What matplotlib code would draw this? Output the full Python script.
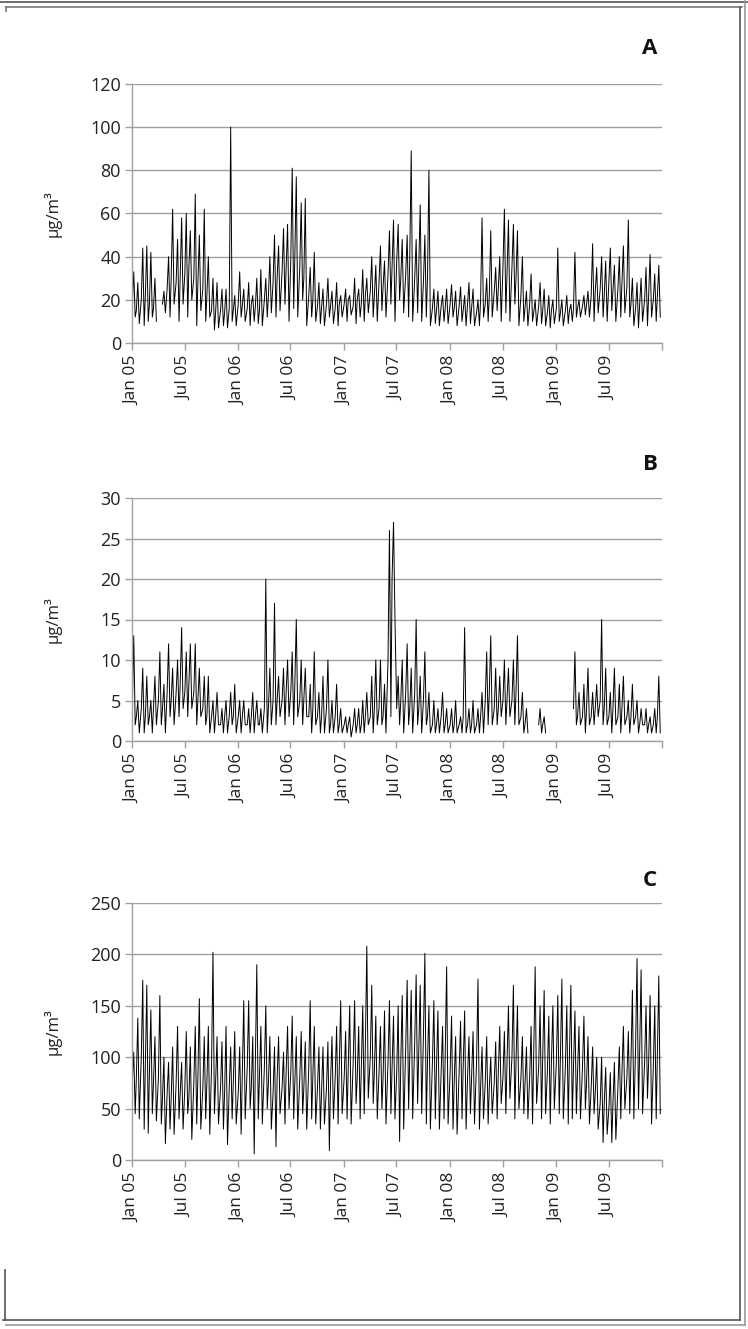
import numpy as np
import pandas as pd
import matplotlib
matplotlib.use('Agg')
import matplotlib.pyplot as plt
from matplotlib.lines import Line2D

nan = np.nan

# half-month periods, Jan 05 - Dec 09; for each period the typical level,
# the high and the low value
periods = pd.date_range('2005-01-01', periods=120, freq='SMS')

a_mid = [18, 15, 20, 22, 18, 16, nan, 18, 25, 30, 28, 30, 32, 35, 30, 28, 25, 22, 15, 14, 15, 14, 16, 15,
         18, 17, 16, 18, 17, 15, 20, 22, 28, 30, 33, 35, 38, 40, 35, 30, 22, 20, 17, 16, 18, 17, 16, 18,
         18, 20, 17, 20, 18, 22, 24, 22, 28, 26, 32, 35, 38, 30, 32, 40, 30, 35, 28, 30, 16, 15, 17, 16,
         18, 16, 17, 15, 18, 16, 14, 20, 18, 22, 24, 25, 35, 32, 35, 30, 22, 16, 18, 14, 17, 15, 14, 15,
         16, 14, 15, 15, 16, 16, 17, 18, 22, 24, 25, 22, 28, 24, 25, 28, 26, 18, 16, 18, 20, 22, 20, 22]
a_lo = [12, 9, 8, 10, 12, 10, nan, 14, 12, 18, 10, 18, 12, 20, 8, 15, 10, 12, 6, 7, 8, 7, 10, 8,
        12, 10, 8, 10, 9, 8, 12, 14, 12, 15, 18, 10, 16, 12, 20, 8, 12, 10, 9, 8, 12, 9, 8, 12,
        10, 13, 9, 12, 10, 14, 12, 10, 15, 12, 18, 10, 20, 14, 12, 10, 14, 10, 12, 8, 9, 8, 10, 9,
        12, 8, 10, 8, 9, 8, 8, 12, 10, 12, 15, 10, 14, 10, 18, 8, 10, 8, 10, 8, 9, 8, 7, 9,
        10, 8, 9, 10, 12, 12, 13, 12, 10, 14, 12, 10, 15, 10, 12, 14, 12, 8, 7, 10, 8, 12, 10, 12]
a_hi = [33, 28, 44, 45, 42, 30, nan, 24, 40, 62, 48, 58, 60, 52, 69, 50, 62, 40, 30, 28, 25, 25, 100, 22,
        33, 25, 28, 22, 30, 34, 30, 40, 50, 45, 53, 55, 81, 77, 65, 67, 35, 42, 28, 25, 30, 24, 28, 22,
        25, 22, 30, 25, 34, 30, 40, 36, 45, 38, 52, 57, 55, 48, 50, 89, 48, 64, 50, 80, 25, 24, 22, 25,
        27, 24, 26, 22, 28, 25, 20, 58, 30, 52, 35, 40, 62, 57, 55, 52, 40, 24, 32, 20, 28, 25, 22, 20,
        44, 20, 22, 18, 42, 20, 22, 24, 46, 35, 40, 38, 44, 36, 40, 45, 57, 30, 28, 30, 35, 41, 32, 36]

b_mid = [4, 3, 4, 3, 3, 4, 5, 4, 6, 5, 6, 7, 6, 7, 6, 5, 4, 3, 3, 3, 2, 3, 3, 3,
         3, 3, 2, 3, 3, 2, 4, 4, 5, 5, 5, 6, 6, 7, 5, 5, 3, 4, 3, 3, 4, 2, 3, 2,
         2, 2, 2, 2, 2, 3, 3, 4, 4, 3, 10, 20, 4, 5, 6, 4, 6, 4, 5, 3, 2, 2, 3, 2,
         2, 2, 2, 3, 2, 2, 2, 3, 5, 6, 4, 4, 5, 5, 5, 6, 3, 2, nan, nan, 2, 2, nan, nan,
         nan, nan, nan, nan, 4, 3, 3, 4, 3, 4, 5, 4, 3, 4, 3, 4, 3, 3, 3, 2, 2, 2, 2, 3]
b_lo = [2, 1, 1, 2, 1, 2, 2, 1, 3, 2, 3, 4, 3, 4, 2, 3, 2, 1, 1, 2, 1, 1, 2, 1,
        1, 2, 1, 1, 2, 1, 1, 2, 2, 3, 2, 3, 2, 3, 2, 3, 1, 2, 1, 1, 1, 1, 1, 1,
        1, 0.5, 1, 1, 1, 2, 1, 2, 2, 1, 3, 15, 2, 1, 2, 1, 2, 1, 2, 1, 1, 1, 1, 1,
        1, 1, 1, 1, 1, 1, 1, 1, 2, 2, 2, 3, 2, 3, 2, 2, 1, 1, nan, nan, 1, 1, nan, nan,
        nan, nan, nan, nan, 2, 2, 1, 2, 2, 3, 2, 2, 1, 2, 1, 2, 1, 2, 1, 2, 1, 1, 1, 1]
b_hi = [13, 5, 9, 8, 5, 8, 11, 7, 12, 9, 10, 14, 11, 12, 12, 9, 8, 8, 5, 6, 4, 5, 6, 7,
        5, 5, 4, 6, 5, 4, 20, 9, 17, 8, 9, 10, 11, 15, 10, 9, 7, 11, 6, 8, 10, 5, 7, 4,
        3, 3, 4, 4, 5, 6, 8, 10, 10, 7, 26, 27, 8, 10, 12, 9, 15, 8, 11, 6, 5, 4, 6, 4,
        4, 5, 3, 14, 4, 5, 4, 6, 11, 13, 9, 8, 10, 9, 10, 13, 6, 4, nan, nan, 4, 3, nan, nan,
        nan, nan, nan, nan, 11, 6, 7, 9, 6, 7, 15, 9, 6, 9, 7, 8, 5, 7, 5, 4, 4, 3, 4, 8]

c_mid = [75, 80, 100, 90, 85, 75, 80, 60, 65, 60, 75, 65, 70, 60, 75, 80, 70, 75, 90, 75, 70, 65, 70, 75,
         65, 85, 90, 70, 95, 80, 90, 75, 65, 80, 70, 85, 85, 75, 80, 70, 90, 80, 70, 65, 70, 75, 80, 90,
         80, 90, 95, 80, 90, 110, 100, 85, 85, 80, 95, 90, 85, 95, 110, 100, 115, 105, 120, 95, 95, 90, 85, 100,
         85, 75, 85, 90, 80, 80, 95, 70, 75, 70, 75, 85, 80, 95, 100, 95, 80, 75, 80, 105, 90, 100, 85, 95,
         95, 100, 90, 100, 90, 85, 90, 75, 70, 65, 55, 55, 50, 55, 70, 85, 80, 95, 110, 105, 95, 95, 90, 100]
c_lo = [45, 40, 30, 26, 45, 38, 35, 16, 30, 25, 40, 30, 45, 20, 35, 30, 40, 25, 45, 35, 30, 15, 40, 35,
        25, 40, 50, 6, 40, 35, 50, 30, 13, 45, 35, 50, 40, 30, 45, 30, 40, 35, 30, 35, 9, 40, 35, 45,
        40, 35, 55, 40, 45, 60, 55, 40, 50, 35, 45, 40, 18, 30, 50, 40, 55, 45, 35, 30, 40, 30, 40, 35,
        30, 25, 40, 30, 45, 35, 30, 40, 35, 45, 40, 55, 45, 60, 40, 50, 45, 40, 35, 55, 40, 45, 35, 50,
        45, 40, 35, 40, 45, 40, 50, 35, 45, 30, 17, 25, 17, 20, 40, 50, 45, 40, 50, 45, 60, 35, 40, 45]
c_hi = [105, 138, 175, 170, 146, 120, 160, 100, 95, 110, 130, 95, 125, 110, 130, 157, 120, 130, 202, 120, 115, 130, 110, 125,
        110, 155, 155, 120, 190, 130, 150, 120, 110, 120, 105, 130, 140, 120, 125, 115, 155, 130, 110, 110, 115, 120, 130, 155,
        125, 150, 155, 130, 150, 208, 170, 140, 130, 145, 155, 140, 150, 160, 175, 165, 180, 170, 201, 150, 155, 145, 130, 188,
        140, 120, 135, 145, 120, 125, 176, 110, 120, 100, 115, 130, 125, 150, 170, 150, 120, 110, 130, 188, 150, 165, 140, 150,
        160, 176, 150, 170, 145, 130, 140, 120, 110, 100, 100, 90, 85, 95, 110, 130, 125, 165, 196, 185, 150, 160, 150, 179]

panels = ['A', 'B', 'C']
y_max = [120, 30, 250]
y_step = [20, 5, 50]
tick_dates = pd.date_range('2005-01-01', '2010-01-01', freq='6MS')
tick_labels = ['Jan 05', 'Jul 05', 'Jan 06', 'Jul 06', 'Jan 07', 'Jul 07',
               'Jan 08', 'Jul 08', 'Jan 09', 'Jul 09', '']


def spikes(mid, lo, hi):
    # three readings per half month: typical level, high, low
    n = len(periods)
    t = np.empty(3 * n, dtype='datetime64[ns]')
    t[0::3] = (periods + pd.Timedelta(days=1)).values
    t[1::3] = (periods + pd.Timedelta(days=6)).values
    t[2::3] = (periods + pd.Timedelta(days=11)).values
    y = np.empty(3 * n)
    y[0::3] = mid
    y[1::3] = hi
    y[2::3] = lo
    return t, y


W, H = 748, 1329
fig = plt.figure(figsize=(W / 100, H / 100), dpi=100)
plt.rcParams['font.family'] = ['Open Sans', 'DejaVu Sans']

# axes boxes in pixels: top, bottom
boxes = [(84, 343), (498, 741), (903, 1160)]
title_y = [48, 465, 880]
left, right = 132, 662
series = [(a_mid, a_lo, a_hi), (b_mid, b_lo, b_hi), (c_mid, c_lo, c_hi)]
grid_c = '#a0a0a0'

for k in range(3):
    top, bot = boxes[k]
    ax = fig.add_axes([left / W, 1 - bot / H, (right - left) / W, (bot - top) / H])
    t, y = spikes(*series[k])
    ax.plot(t, y, color='black', lw=0.7)
    ax.set_xlim(pd.Timestamp('2005-01-01'), pd.Timestamp('2010-01-01'))
    ax.set_ylim(0, y_max[k])
    ax.set_yticks(np.arange(0, y_max[k] + 1, y_step[k]))
    ax.set_xticks(tick_dates)
    ax.set_xticklabels(tick_labels, rotation=90, fontsize=12.5, color='#222222')
    ax.tick_params(axis='y', labelsize=13, colors=grid_c, labelcolor='#222222', length=5, width=1, pad=3)
    ax.tick_params(axis='x', colors=grid_c, labelcolor='#222222', length=5, width=1, pad=4)
    ax.grid(axis='y', color=grid_c, lw=1)
    ax.set_axisbelow(True)
    for s in ['top', 'right']:
        ax.spines[s].set_visible(False)
    for s in ['left', 'bottom']:
        ax.spines[s].set_color(grid_c)
        ax.spines[s].set_linewidth(1)
    ax.set_ylabel('µg/m³', fontsize=12, color='#222222')
    ax.yaxis.set_label_coords((62 - left) / (right - left), 0.5)
    fig.text(650 / W, 1 - title_y[k] / H, panels[k], fontsize=16, fontweight='bold',
             ha='center', va='center', color='#111111')

# page frame
def px_line(x0, y0, x1, y1, c, lw=1.2):
    fig.add_artist(Line2D([x0 / W, x1 / W], [1 - y0 / H, 1 - y1 / H], color=c, lw=lw))

px_line(0, 1.5, W, 1.5, '#555555')
px_line(6, 7, 742, 7, '#777777')
px_line(740, 7, 740, 1320, '#555555')
px_line(745, 1, 745, 1325, '#999999')
px_line(3, 1320, 740, 1320, '#555555')
px_line(6, 1325, 745, 1325, '#999999')
px_line(6, 7, 6, 11, '#777777')
px_line(5, 1270, 5, 1320, '#555555')

fig.savefig('out.png', dpi=100)
